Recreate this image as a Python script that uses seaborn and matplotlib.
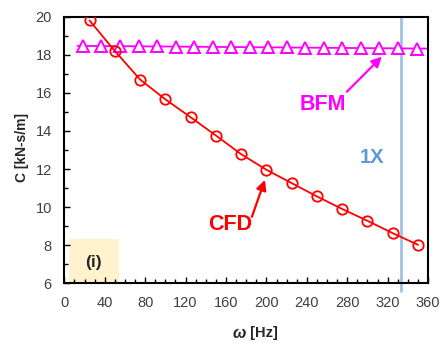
import numpy as np
import pandas as pd
import matplotlib
matplotlib.use('Agg')
import matplotlib.pyplot as plt
from matplotlib.ticker import MultipleLocator
import seaborn as sns

# CFD damping vs frequency
cfd_freq = [25, 50, 75, 100, 125, 150, 175, 200, 225, 250, 275, 300, 325, 350]
cfd_c = [19.8, 18.2, 16.7, 15.66, 14.72, 13.76, 12.78, 11.96, 11.26, 10.56, 9.9, 9.28, 8.63, 8.02]

# BFM damping vs frequency
bfm_freq = [18.5, 36.8, 55.2, 73.5, 91.8, 110.2, 128.5, 146.8, 165.2, 183.5,
            201.8, 220.2, 238.5, 256.8, 275.2, 293.5, 311.8, 330.2, 348.5]
bfm_c = [18.46, 18.45, 18.45, 18.44, 18.44, 18.43, 18.42, 18.42, 18.41, 18.4,
         18.4, 18.39, 18.38, 18.37, 18.36, 18.35, 18.34, 18.33, 18.32]

one_x = 333.3

sns.set_style("ticks")
plt.rcParams['font.family'] = ['Liberation Sans', 'DejaVu Sans']

fig = plt.figure(figsize=(4.41, 3.44), dpi=100)
ax = fig.add_axes([0.1458, 0.1765, 0.825, 0.775])

df_cfd = pd.DataFrame({'freq': cfd_freq, 'C': cfd_c})
df_bfm = pd.DataFrame({'freq': bfm_freq, 'C': bfm_c})

# 1X vertical line (runs a bit below the axis)
ax.plot([one_x, one_x], [5.6, 20], color='#9DC3E6', lw=2, zorder=1, clip_on=False)

# BFM trend line running across the plot
coef = np.polyfit(bfm_freq, bfm_c, 1)
xs = np.array([13, 360])
ax.plot(xs, np.polyval(coef, xs), color='#FF00FF', lw=1.3, zorder=2)
sns.lineplot(data=df_bfm, x='freq', y='C', ax=ax, color='#FF00FF', lw=0,
             marker='^', markersize=8.5, markerfacecolor='white',
             markeredgecolor='#FF00FF', markeredgewidth=1.4, zorder=3)

sns.lineplot(data=df_cfd, x='freq', y='C', ax=ax, color='#FF0000', lw=1.3,
             marker='o', markersize=7.5, markerfacecolor='none',
             markeredgecolor='#FF0000', markeredgewidth=1.3, zorder=4)

# (i) box
ax.fill_between([4.6, 54], 6, 8.33, color='#FFF2CC', zorder=0, lw=0)
ax.text(28.5, 7.07, '(i)', fontsize=12.5, fontweight='bold', ha='center', va='center')

# labels with arrows
ax.text(256, 15.4, 'BFM', color='#FF00FF', fontsize=15.5, fontweight='bold',
        ha='center', va='center')
ax.annotate('', xy=(314.2, 17.9), xytext=(279.6, 16.06),
            arrowprops=dict(arrowstyle='-|>', color='#FF00FF', lw=1.6,
                            mutation_scale=15, shrinkA=0, shrinkB=0))
ax.text(164, 9.07, 'CFD', color='#FF0000', fontsize=15.5, fontweight='bold',
        ha='center', va='center')
ax.annotate('', xy=(198.5, 11.43), xytext=(185.6, 9.49),
            arrowprops=dict(arrowstyle='-|>', color='#FF0000', lw=1.6,
                            mutation_scale=15, shrinkA=0, shrinkB=0))
ax.text(304, 12.6, '1X', color='#5B9BD5', fontsize=14.5, fontweight='bold',
        ha='center', va='center')

ax.set_xlim(0, 360)
ax.set_ylim(6, 20)
ax.xaxis.set_major_locator(MultipleLocator(40))
ax.xaxis.set_minor_locator(MultipleLocator(10))
ax.yaxis.set_major_locator(MultipleLocator(2))
ax.yaxis.set_minor_locator(MultipleLocator(1))
ax.tick_params(which='both', direction='in', colors='black', labelcolor='#404040',
               labelsize=10.5, top=False, right=False)
ax.tick_params(which='major', length=4, width=1)
ax.tick_params(which='minor', length=3, width=1)
ax.tick_params(axis='x', which='major', pad=9)
ax.tick_params(axis='y', which='major', pad=9)
for s in ax.spines.values():
    s.set_linewidth(1.5)
    s.set_color('black')

ax.set_xlabel('')
ax.set_ylabel('')
fig.text(22 / 441, 1 - 147 / 344, 'C [kN-s/m]', fontsize=10, fontweight='bold',
         rotation=90, ha='center', va='center')
fig.text(246 / 441, 1 - 333 / 344, '\u03c9', fontsize=11.5, fontweight='bold',
         fontstyle='italic', ha='right', va='center')
fig.text(246 / 441, 1 - 333 / 344, ' [Hz]', fontsize=10.5, fontweight='bold',
         ha='left', va='center')

fig.savefig('out.png', dpi=100)
